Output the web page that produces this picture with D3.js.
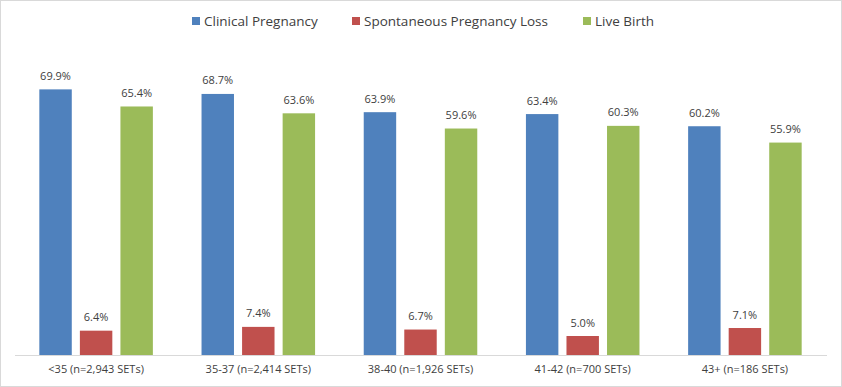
<!DOCTYPE html>
<html><head><meta charset="utf-8">
<script src="https://cdn.jsdelivr.net/npm/d3@7"></script>
<style>body{margin:0;background:#fff}svg{display:block}</style>
</head><body>
<svg id="c" width="842" height="387"></svg>
<script>
const categories = ["<35 (n=2,943 SETs)", "35-37 (n=2,414 SETs)", "38-40 (n=1,926 SETs)", "41-42 (n=700 SETs)", "43+ (n=186 SETs)"];
const seriesNames = ["Clinical Pregnancy", "Spontaneous Pregnancy Loss", "Live Birth"];
const clinicalPregnancy = [69.9, 68.7, 63.9, 63.4, 60.2];
const pregnancyLoss = [6.4, 7.4, 6.7, 5.0, 7.1];
const liveBirth = [65.4, 63.6, 59.6, 60.3, 55.9];
const colors = ["#4f81bd", "#c0504d", "#9bbb59"];
const seriesValues = [clinicalPregnancy, pregnancyLoss, liveBirth];

const W = 842, H = 387;
const svg = d3.select("#c");
const font = "'Open Sans', 'Noto Sans', sans-serif";

svg.append("rect").attr("x",0.5).attr("y",0.5).attr("width",W-1).attr("height",H-1)
  .attr("fill","#fff").attr("stroke","#d9d9d9");

const x0 = d3.scaleBand().domain(categories).range([15, 826]).padding(0);
const x1 = d3.scaleBand().domain(seriesNames).range([0, x0.bandwidth()]).paddingInner(0.2).paddingOuter(0.6);
const y = d3.scaleLinear().domain([0, 80]).range([355, 51]);

const g = svg.append("g");
categories.forEach((c, ci) => {
  const grp = g.append("g").attr("transform", `translate(${x0(c)},0)`);
  seriesNames.forEach((s, si) => {
    const v = seriesValues[si][ci];
    grp.append("rect").attr("x", x1(s)).attr("y", y(v)).attr("width", x1.bandwidth())
      .attr("height", y(0) - y(v)).attr("fill", colors[si]);
    grp.append("text").attr("x", x1(s) + x1.bandwidth()/2).attr("y", y(v) - 9.5)
      .attr("text-anchor","middle").attr("font-family", font).attr("font-size", 11)
      .attr("fill","#404040").text(v.toFixed(1) + "%");
  });
});

// x axis
const xAxis = d3.axisBottom(x0).tickSize(0).tickPadding(10);
const ax = svg.append("g").attr("transform", `translate(0,${y(0)})`).call(xAxis);
ax.select(".domain").attr("stroke","#d9d9d9").attr("d", `M${x0.range()[0]},0.5H${x0.range()[1]+1}`);
ax.selectAll("text").attr("font-family", font).attr("font-size", 11).attr("fill","#404040");

// legend
const legendX = [192, 352, 583];
const lg = svg.append("g");
seriesNames.forEach((s, i) => {
  lg.append("rect").attr("x", legendX[i]).attr("y", 17).attr("width", 8).attr("height", 8).attr("fill", colors[i]);
  lg.append("text").attr("x", legendX[i] + 12).attr("y", 26).attr("font-family", font)
    .attr("font-size", 13.5).attr("fill","#404040").text(s);
});
</script>
</body></html>
